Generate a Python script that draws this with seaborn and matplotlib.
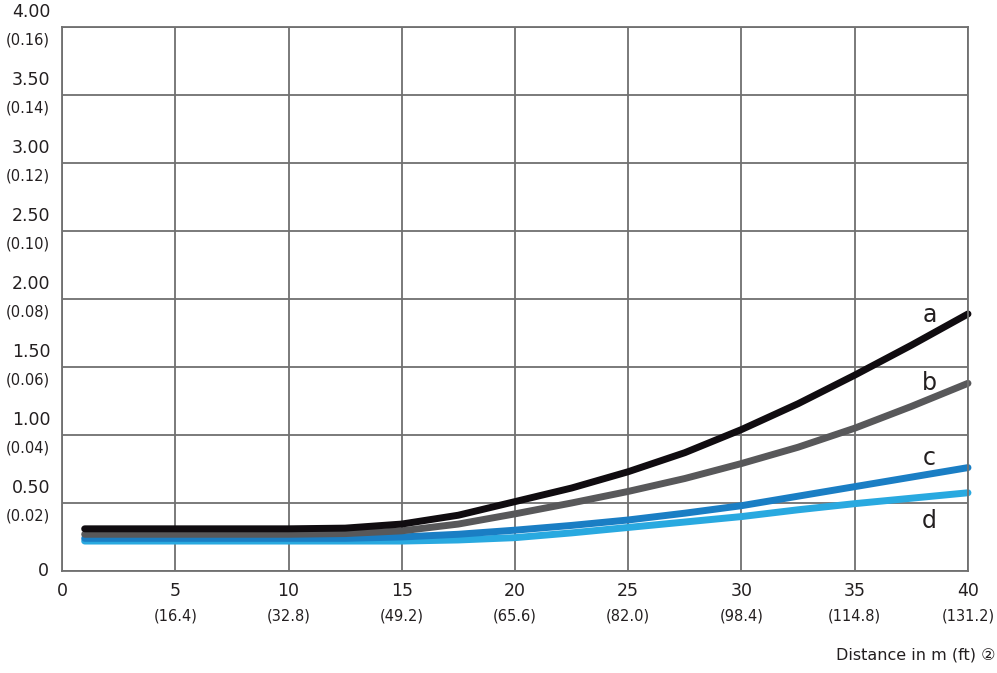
import pandas as pd
import matplotlib
matplotlib.use("Agg")
import matplotlib.pyplot as plt
import matplotlib.transforms as mtransforms
import seaborn as sns

# distance in m
distance = [1, 5, 10, 12.5, 15, 17.5, 20, 22.5, 25, 27.5, 30, 32.5, 35, 37.5, 40]

# curve values
curve_a = [0.31, 0.31, 0.31, 0.315, 0.345, 0.41, 0.51, 0.61, 0.73, 0.87, 1.04, 1.23, 1.44, 1.66, 1.89]
curve_b = [0.27, 0.27, 0.27, 0.275, 0.295, 0.345, 0.42, 0.50, 0.585, 0.68, 0.79, 0.91, 1.05, 1.21, 1.38]
curve_c = [0.24, 0.24, 0.24, 0.24, 0.25, 0.27, 0.30, 0.335, 0.375, 0.425, 0.48, 0.55, 0.62, 0.69, 0.76]
curve_d = [0.22, 0.22, 0.22, 0.22, 0.22, 0.228, 0.245, 0.28, 0.32, 0.36, 0.40, 0.45, 0.495, 0.535, 0.575]

x_ticks = [0, 5, 10, 15, 20, 25, 30, 35, 40]
x_ft = ["", "(16.4)", "(32.8)", "(49.2)", "(65.6)", "(82.0)", "(98.4)", "(114.8)", "(131.2)"]
y_ticks = [0, 0.5, 1.0, 1.5, 2.0, 2.5, 3.0, 3.5, 4.0]
y_main = ["0", "0.50", "1.00", "1.50", "2.00", "2.50", "3.00", "3.50", "4.00"]
y_sub = ["", "(0.02)", "(0.04)", "(0.06)", "(0.08)", "(0.10)", "(0.12)", "(0.14)", "(0.16)"]

colors = {"a": "#100c10", "b": "#58585a", "c": "#1a7ec4", "d": "#29a9e0"}
text_color = "#231f20"

df = pd.concat([
    pd.DataFrame({"distance": distance, "value": vals, "curve": name})
    for name, vals in [("a", curve_a), ("b", curve_b), ("c", curve_c), ("d", curve_d)]
], ignore_index=True)

sns.set_style("white")
plt.rcParams["font.family"] = ["DejaVu Sans", "Noto Sans CJK JP"]

fig = plt.figure(figsize=(9.97, 6.73), dpi=100)
ax = fig.add_axes([0.0622, 0.1516, 0.9087, 0.8083])

# d drawn first, a on top
sns.lineplot(data=df, x="distance", y="value", hue="curve", hue_order=["d", "c", "b", "a"],
             palette=colors, linewidth=5, legend=False, ax=ax, sort=False,
             solid_capstyle="round", solid_joinstyle="round")

ax.set_xlim(0, 40)
ax.set_ylim(0, 4.0)
ax.set_xticks(x_ticks)
ax.set_yticks(y_ticks)
ax.set_xticklabels([])
ax.set_yticklabels([])
ax.tick_params(length=0)
ax.grid(True, color="#707070", linewidth=1.3)
ax.set_axisbelow(True)
for s in ax.spines.values():
    s.set_color("#707070")
    s.set_linewidth(1.3)
ax.set_xlabel("")
ax.set_ylabel("")
for line in ax.lines:
    line.set_clip_on(False)

# two-line tick labels (m on top, ft in brackets below)
ytr = mtransforms.blended_transform_factory(ax.transAxes, ax.transData)
for yv, m, s in zip(y_ticks, y_main, y_sub):
    if s:
        ax.text(-0.013, yv, m, transform=ytr + mtransforms.ScaledTranslation(0, 15 / 100, fig.dpi_scale_trans),
                ha="right", va="center", fontsize=12.5, color=text_color)
        ax.text(-0.013, yv, s, transform=ytr + mtransforms.ScaledTranslation(0, -13 / 100, fig.dpi_scale_trans),
                ha="right", va="center", fontsize=10.5, color=text_color)
    else:
        ax.text(-0.015, yv, m, transform=ytr, ha="right", va="center", fontsize=12.5, color=text_color)

xtr = mtransforms.blended_transform_factory(ax.transData, ax.transAxes)
for xv, s in zip(x_ticks, x_ft):
    ax.text(xv, 0, str(xv), transform=xtr + mtransforms.ScaledTranslation(0, -20 / 100, fig.dpi_scale_trans),
            ha="center", va="center", fontsize=12.5, color=text_color)
    if s:
        ax.text(xv, 0, s, transform=xtr + mtransforms.ScaledTranslation(0, -45 / 100, fig.dpi_scale_trans),
                ha="center", va="center", fontsize=10.5, color=text_color)

# curve labels
ax.text(38.3, 1.88, "a", fontsize=17, ha="center", va="center", color=text_color)
ax.text(38.3, 1.38, "b", fontsize=17, ha="center", va="center", color=text_color)
ax.text(38.3, 0.83, "c", fontsize=17, ha="center", va="center", color=text_color)
ax.text(38.3, 0.37, "d", fontsize=17, ha="center", va="center", color=text_color)

fig.text(0.998, 0.016, "Distance in m (ft) \u2461", ha="right", va="bottom", fontsize=11.5, color=text_color)

fig.savefig("out.png", dpi=100)
